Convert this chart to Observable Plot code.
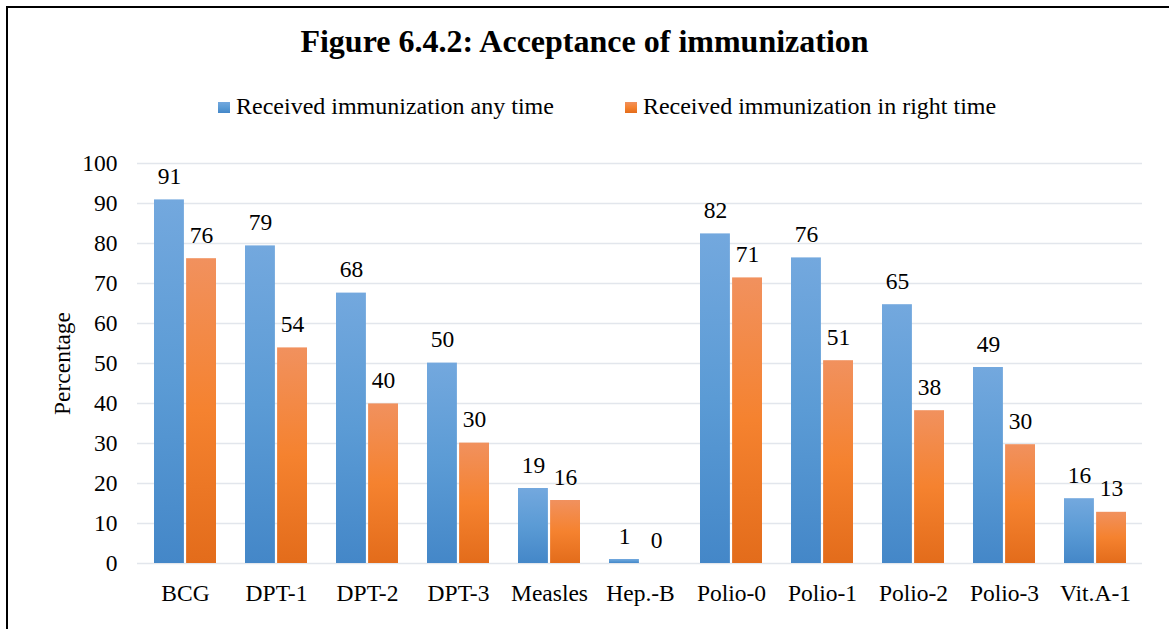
<!DOCTYPE html>
<html>
<head>
<meta charset="utf-8">
<script src="https://cdn.jsdelivr.net/npm/d3@7"></script>
<script src="https://cdn.jsdelivr.net/npm/@observablehq/plot@0.6"></script>
<style>
  html, body { margin: 0; padding: 0; background: #fff; overflow: hidden; }
  body { width: 1169px; height: 629px; position: relative; font-family: "Liberation Serif", "Times New Roman", serif; color: #000; }
  #frame { position: absolute; left: 6px; top: 6px; width: 2000px; height: 2000px; border-left: 2px solid #000; border-top: 2px solid #000; pointer-events: none; }
  #title { padding-top: 6px; height: 71px; line-height: 70px; text-align: center; font-weight: bold; font-size: 32px; white-space: nowrap; }
  #legend { padding-top: 4px; height: 50px; line-height: 50px; font-size: 24px; padding-left: 218px; white-space: nowrap; }
  .item { display: inline-block; }
  .sw { display: inline-block; width: 12px; height: 11px; margin-right: 6px; vertical-align: 1px; }
  #chart svg { display: block; }
</style>
</head>
<body>
<div id="frame"></div>
<div id="title"></div>
<div id="legend"></div>
<div id="chart"></div>
<script>
const titleText = "Figure 6.4.2: Acceptance of immunization";
const categories = ["BCG", "DPT-1", "DPT-2", "DPT-3", "Measles", "Hep.-B", "Polio-0", "Polio-1", "Polio-2", "Polio-3", "Vit.A-1"];
const seriesNames = ["Received immunization any time", "Received immunization in right time"];
const anyTime = [90.9, 79.4, 67.6, 50.1, 18.75, 1.0, 82.4, 76.4, 64.7, 49.0, 16.2];
const rightTime = [76.2, 53.9, 39.9, 30.1, 15.75, 0, 71.4, 50.7, 38.2, 29.7, 12.8];
const yTicks = [0, 10, 20, 30, 40, 50, 60, 70, 80, 90, 100];
const yLabel = "Percentage";

const blueStops = ["#73a8de", "#5b9bd5", "#4487c8"];
const orangeStops = ["#f1915e", "#f5822f", "#e36c1b"];

document.getElementById("title").textContent = titleText;

const legend = document.getElementById("legend");
seriesNames.forEach((name, i) => {
  const item = document.createElement("span");
  item.className = "item";
  if (i === 1) item.style.marginLeft = "71px";
  const sw = document.createElement("span");
  sw.className = "sw";
  const st = i === 0 ? blueStops : orangeStops;
  sw.style.background = `linear-gradient(${st[0]}, ${st[1]} 50%, ${st[2]})`;
  item.appendChild(sw);
  item.appendChild(document.createTextNode(name));
  legend.appendChild(item);
});

const blueRows = categories.map((c, i) => ({category: c, value: anyTime[i]}));
const orangeRows = categories.map((c, i) => ({category: c, value: rightTime[i]}));
const fmt = d3.format(".0f");

const fontSize = 23.5;
const svg = Plot.plot({
  width: 1169,
  height: 498,
  marginTop: 32,
  marginBottom: 66,
  marginLeft: 137,
  marginRight: 27,
  style: {fontFamily: "'Liberation Serif', 'Times New Roman', serif", fontSize: fontSize + "px", color: "#000", background: "transparent"},
  x: {domain: categories, paddingInner: 0.32, paddingOuter: 0.16, axis: null},
  y: {domain: [0, 100], axis: null},
  marks: [
    Plot.ruleY(yTicks, {stroke: "#e2e6ec", strokeWidth: 1.6}),
    Plot.barY(blueRows, {x: "category", y: "value", fill: "url(#gradBlue)", insetRight: 32.1}),
    Plot.barY(orangeRows, {x: "category", y: "value", fill: "url(#gradOrange)", insetLeft: 32.1}),
    Plot.text(blueRows, {x: "category", y: "value", text: d => fmt(d.value), dx: -16, dy: -16, lineAnchor: "bottom", fill: "#000"}),
    Plot.text(orangeRows, {x: "category", y: "value", text: d => fmt(d.value), dx: 16, dy: -16, lineAnchor: "bottom", fill: "#000"}),
    Plot.axisX({tickSize: 0, tickPadding: 21, label: null, fill: "#000"}),
    Plot.axisY({ticks: yTicks, tickSize: 0, tickPadding: 20, label: null, fill: "#000"}),
    Plot.text([yLabel], {frameAnchor: "left", textAnchor: "middle", rotate: -90, dx: -75, lineAnchor: "middle", fill: "#000"})
  ]
});

const defs = d3.select(svg).insert("defs", ":first-child");
[["gradBlue", blueStops], ["gradOrange", orangeStops]].forEach(([id, st]) => {
  const g = defs.append("linearGradient").attr("id", id).attr("x1", 0).attr("y1", 0).attr("x2", 0).attr("y2", 1);
  g.append("stop").attr("offset", "0%").attr("stop-color", st[0]);
  g.append("stop").attr("offset", "50%").attr("stop-color", st[1]);
  g.append("stop").attr("offset", "100%").attr("stop-color", st[2]);
});

document.getElementById("chart").appendChild(svg);
</script>
</body>
</html>
